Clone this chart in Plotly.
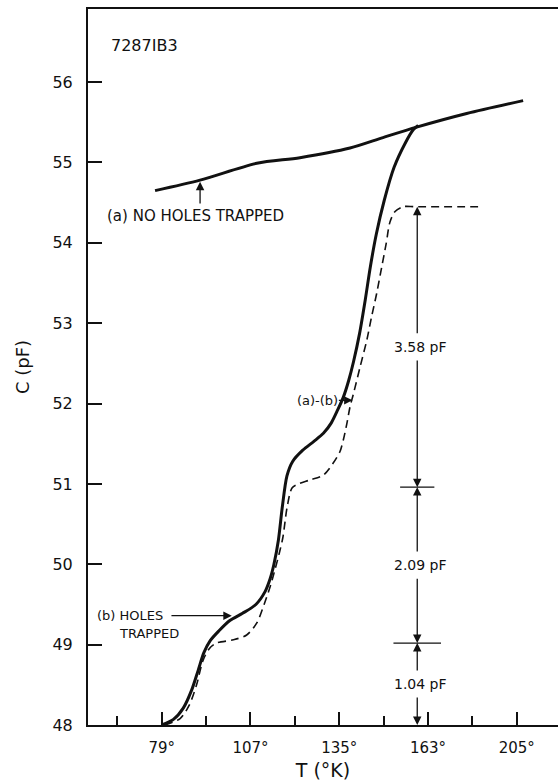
import plotly.graph_objects as go

# ---- data ----
# curve (a): no holes trapped
T_a = [76.9, 91.1, 109.0, 122.6, 138.4, 148.8, 159.4, 175.2, 193.0]
C_a = [54.65, 54.78, 54.99, 55.06, 55.18, 55.31, 55.44, 55.61, 55.77]

# curve (b): holes trapped (solid)
T_b = [79.0, 82.7, 85.8, 88.5, 90.5, 92.3, 94.3, 97.0, 100.5, 104.5, 108.7, 111.6, 113.2,
       114.4, 115.8, 117.0, 118.5, 120.3, 123.5, 127.0, 130.0, 132.5, 134.5, 136.3, 138.0,
       139.5, 141.4, 143.2, 144.8, 146.7, 149.2, 152.3, 155.8, 158.4, 159.9]
C_b = [48.0, 48.07, 48.21, 48.44, 48.68, 48.90, 49.05, 49.17, 49.30, 49.39, 49.50, 49.66, 49.82,
       50.00, 50.30, 50.70, 51.10, 51.28, 51.42, 51.53, 51.63, 51.76, 51.92, 52.08, 52.29,
       52.52, 52.87, 53.29, 53.70, 54.11, 54.53, 54.94, 55.24, 55.41, 55.46]

# difference (a)-(b) (dashed)
T_d = [80.0, 84.8, 87.6, 90.0, 92.0, 94.0, 96.3, 101.6, 105.8, 109.0, 111.3, 113.2, 114.7,
       116.1, 117.2, 118.6, 120.1, 122.1, 125.8, 130.0, 133.1, 135.2, 136.3, 137.4, 138.4,
       139.4, 141.6, 143.7, 145.2, 146.8, 148.4, 149.8, 151.0, 152.6, 155.2, 158.9, 180.4]
C_d = [48.0, 48.08, 48.24, 48.50, 48.80, 48.95, 49.02, 49.06, 49.12, 49.27, 49.50, 49.72, 49.93,
       50.14, 50.33, 50.72, 50.95, 51.00, 51.05, 51.11, 51.26, 51.40, 51.55, 51.75, 51.96,
       52.11, 52.46, 52.79, 53.08, 53.37, 53.70, 53.99, 54.26, 54.39, 54.45, 54.45, 54.45]

# step levels of the dimension markers and their labels
levels = [48.0, 49.02, 50.96, 54.45]
level_labels = ["1.04 pF", "2.09 pF", "3.58 pF"]
dim_T = 159.6

# axis ticks
x_major = [79, 107, 135, 163, 191]
x_major_text = ["79°", "107°", "135°", "163°", "205°"]
x_minor = [65, 93, 121, 149, 177]
y_ticks = [48, 49, 50, 51, 52, 53, 54, 55, 56]

FONT = "DejaVu Sans"
INK = "#111111"

fig = go.Figure()
fig.add_trace(go.Scatter(x=T_a, y=C_a, mode="lines",
                         line=dict(color=INK, width=3, shape="spline", smoothing=0.8),
                         showlegend=False, hoverinfo="skip"))
fig.add_trace(go.Scatter(x=T_b, y=C_b, mode="lines",
                         line=dict(color=INK, width=3, shape="spline", smoothing=0.8),
                         showlegend=False, hoverinfo="skip"))
fig.add_trace(go.Scatter(x=T_d, y=C_d, mode="lines",
                         line=dict(color=INK, width=1.6, dash="8px,5px", shape="spline", smoothing=0.8),
                         showlegend=False, hoverinfo="skip"))

ann = []
def arrow(x, y, ax, ay):
    ann.append(dict(x=x, y=y, ax=ax, ay=ay, xref="x", yref="y", axref="x", ayref="y",
                    text="", showarrow=True, arrowhead=2, arrowsize=1.3, arrowwidth=1.3,
                    arrowcolor=INK, standoff=0, startstandoff=0))

# dimension line: arrows, labels, crossbars
half = [0, 7.5, 5.4]
for i in range(3):
    lo, hi = levels[i], levels[i + 1]
    mid = (lo + hi) / 2
    arrow(dim_T, hi, dim_T, mid + 0.15)
    arrow(dim_T, lo, dim_T, mid - 0.15)
    ann.append(dict(x=dim_T + 1.0, y=mid, xref="x", yref="y", text=level_labels[i],
                    showarrow=False, font=dict(family=FONT, size=14, color=INK)))
for i in (1, 2):
    fig.add_shape(type="line", x0=dim_T - half[i], x1=dim_T + half[i], y0=levels[i], y1=levels[i],
                  line=dict(color=INK, width=1.3))

# curve labels
ann.append(dict(x=89.5, y=54.33, xref="x", yref="y", text="(a) NO HOLES TRAPPED", showarrow=False,
                font=dict(family=FONT, size=15, color=INK)))
arrow(91.1, 54.76, 91.1, 54.47)
ann.append(dict(x=58.0, y=49.36, xref="x", yref="y", text="(b) HOLES", showarrow=False, xanchor="left",
                font=dict(family=FONT, size=13, color=INK)))
ann.append(dict(x=64.9, y=49.14, xref="x", yref="y", text="TRAPPED", showarrow=False, xanchor="left",
                font=dict(family=FONT, size=13, color=INK)))
arrow(101.1, 49.36, 81.6, 49.36)
ann.append(dict(x=128.1, y=52.04, xref="x", yref="y", text="(a)-(b)", showarrow=False,
                font=dict(family=FONT, size=13, color=INK)))
arrow(139.2, 52.04, 134.4, 52.04)
ann.append(dict(x=62.5, y=56.45, xref="x", yref="y", text="7287IB3", showarrow=False, xanchor="left",
                font=dict(family=FONT, size=16, color=INK)))

fig.update_layout(
    width=558, height=782,
    margin=dict(l=88, r=0, t=9, b=57),
    paper_bgcolor="white", plot_bgcolor="white",
    font=dict(family=FONT, color=INK),
    annotations=ann,
    xaxis=dict(range=[55.75, 204.0], showgrid=False, zeroline=False,
               showline=True, linecolor=INK, linewidth=2, mirror=True,
               tickmode="array", tickvals=x_major, ticktext=x_major_text,
               ticks="inside", ticklen=13, tickwidth=1.6, tickcolor=INK,
               minor=dict(tickmode="array", tickvals=x_minor, ticks="inside", ticklen=9,
                          tickwidth=1.6, tickcolor=INK),
               tickfont=dict(family=FONT, size=15, color=INK), ticklabelstandoff=8,
               title=dict(text="T (°K)", font=dict(family=FONT, size=19, color=INK), standoff=8)),
    yaxis=dict(range=[48.0, 56.91], showgrid=False, zeroline=False,
               showline=True, linecolor=INK, linewidth=2,
               tickmode="array", tickvals=y_ticks,
               ticks="inside", ticklen=14, tickwidth=1.6, tickcolor=INK,
               tickfont=dict(family=FONT, size=16, color=INK), ticklabelstandoff=10,
               title=dict(text="C (pF)", font=dict(family=FONT, size=18, color=INK), standoff=18)),
)

fig.write_html("out.html")
